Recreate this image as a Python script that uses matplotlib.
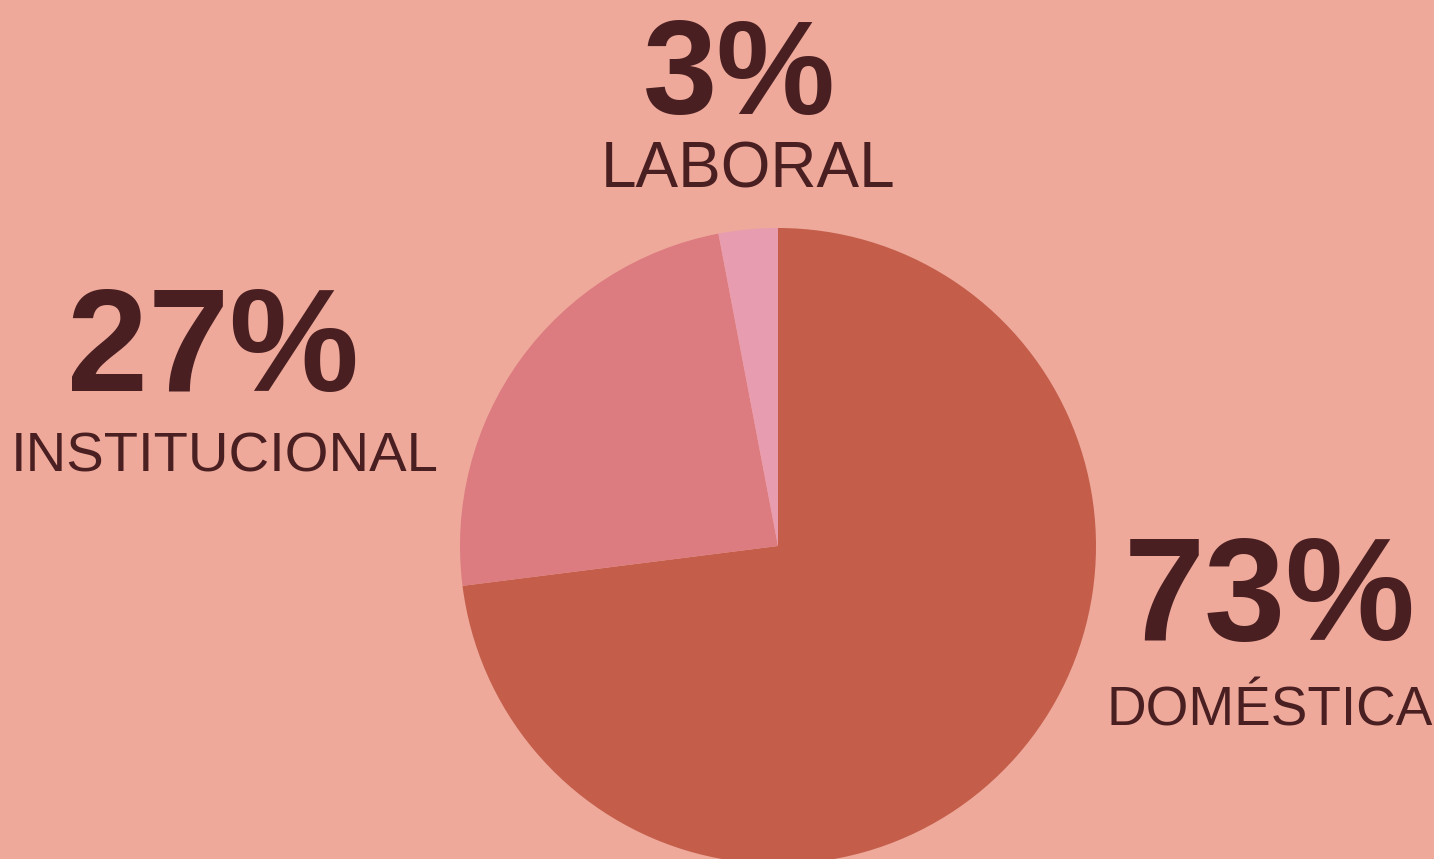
import matplotlib.pyplot as plt

# Data
categories = ["DOMÉSTICA", "INSTITUCIONAL", "LABORAL"]
values = [73, 24, 3]
pct_labels = ["73%", "27%", "3%"]

colors = ["#C45E4B", "#DC7B80", "#E89CB0"]
bg = "#EEA99A"
ink = "#4A1F22"

W, H = 1434, 859
fig = plt.figure(figsize=(W / 100, H / 100), dpi=100, facecolor=bg)
ax = fig.add_axes([0, 0, 1, 1])
ax.set_facecolor(bg)

ax.pie(values, colors=colors, startangle=90, counterclock=False,
       center=(778, H - 546), radius=318,
       wedgeprops=dict(linewidth=0))
ax.set_xlim(0, W)
ax.set_ylim(0, H)
ax.set_aspect("equal")
ax.axis("off")

font = "Liberation Sans"
# (pct x, pct baseline, pct size, label x, label baseline, label size)
spots = {
    "DOMÉSTICA": (1270, 640, 105, 1270, 725, 39.5),
    "INSTITUCIONAL": (213, 391, 105, 224.5, 472, 40.5),
    "LABORAL": (739, 114, 96, 748, 188, 46),
}
for cat, pct in zip(categories, pct_labels):
    xp, yp, sp, xl, yl, sl = spots[cat]
    ax.text(xp, H - yp, pct, ha="center", va="baseline", fontsize=sp,
            fontweight="bold", family=font, color=ink)
    ax.text(xl, H - yl, cat, ha="center", va="baseline", fontsize=sl,
            family=font, color=ink)

fig.savefig("out.png", dpi=100, facecolor=bg)
